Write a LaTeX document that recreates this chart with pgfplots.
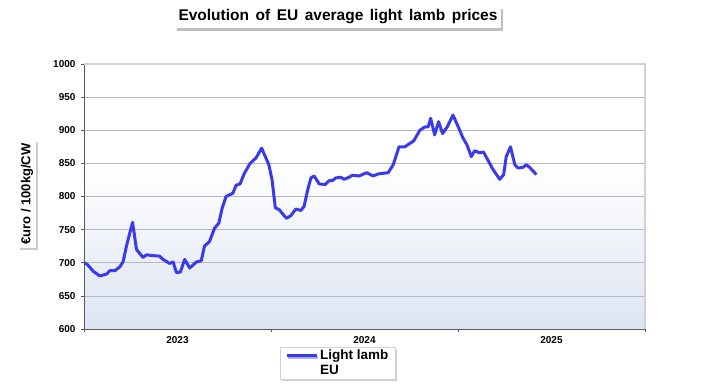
\documentclass[border=0pt]{standalone}
\usepackage{fontspec}
\setmainfont{Liberation Sans}
\usepackage{pgfplots}
\pgfplotsset{compat=1.18}
\usetikzlibrary{shadows}
\definecolor{lamb}{RGB}{58,58,235}
\definecolor{bgblue}{RGB}{221,228,243}
\pgfdeclareverticalshading{plotbg}{100bp}{color(0bp)=(bgblue); color(25bp)=(bgblue); color(56bp)=(white); color(100bp)=(white)}
\begin{document}
\begin{tikzpicture}
\path[use as bounding box] (0pt,0pt) rectangle (721pt,390pt);
\node[fill=white, inner xsep=4pt, inner ysep=4pt, drop shadow={shadow xshift=2pt, shadow yshift=-3pt, opacity=0.5}, font=\bfseries\fontsize{15.5}{17}\selectfont] at (338pt,373pt) {\spaceskip=0.42em Evolution of EU average light lamb prices};
\node[rotate=90, fill=white, inner sep=3pt, drop shadow={shadow xshift=2pt, shadow yshift=-2pt, opacity=0.4}, font=\bfseries\fontsize{13}{15}\selectfont] at (27pt,196pt) {€uro / 100kg/CW};
\begin{axis}[
  at={(84pt,61pt)}, anchor=south west,
  width=561pt, height=265pt, scale only axis,
  xmin=0, xmax=156, ymin=600, ymax=1000,
  xtick={0,52,104,156},
  xticklabels={2023,2024,2025},
  x tick label as interval,
  ytick={600,650,...,1000},
  axis x line=bottom, axis y line=left,
  axis line style={-, draw=gray!70!black, line width=0.8pt},
  tick align=outside, major tick length=3pt,
  tick style={draw=gray!70!black, line width=0.6pt},
  ymajorgrids, grid style={draw=gray!55, line width=0.7pt},
  /pgf/number format/assume math mode=true,
  /pgf/number format/1000 sep={},
  tick label style={font=\bfseries\fontsize{10}{12}\selectfont},
  yticklabel style={xshift=-2pt},
  xticklabel style={yshift=-1pt},
  axis background/.style={shading=plotbg},
  after end axis/.code={\draw[gray!35, line width=1.6pt] (rel axis cs:0,1) -- (rel axis cs:1,1) -- (rel axis cs:1,0);},
  legend style={at={(0.3494,-0.068)}, anchor=north west, draw=gray!35, fill=white,
    drop shadow={shadow xshift=1.5pt, shadow yshift=-1.5pt, opacity=0.4},
    font=\bfseries\fontsize{13.5}{15}\selectfont, inner xsep=5pt, inner ysep=1pt,
    row sep=0pt},
  legend cell align=left,
  legend image code/.code={\draw[#1] (0pt,0pt) -- (30pt,0pt);},
]
\addplot[lamb, line width=3pt, line join=round] coordinates {
(0,700) (1,697) (2.6,687) (4.4,680) (6.3,683) (7.2,688) (8.6,688) (10,694)
(10.9,702) (11.8,725) (13.5,761) (14.6,720) (16.4,708) (17.4,712) (18.7,711)
(21,710) (22,705) (22.9,702) (23.8,699) (24.8,701) (25.7,685) (26.8,686)
(28,705) (29.4,692) (31.2,701) (32.6,703) (33.5,725) (34.9,732) (36.3,752)
(37.5,760) (38.4,782) (39.5,800) (41.4,805) (42.3,817) (43.4,819) (44.6,835)
(46.2,850) (47.8,858) (49.4,873) (51.4,848) (52.3,825) (53.2,783) (54.3,780)
(56.3,767) (57.5,771) (58.9,781) (60.3,779) (61.2,785) (62.2,810) (63.1,828)
(64,831) (65.4,819) (67.1,818) (68.2,824) (69.1,824) (70,828) (71.4,829)
(72.3,826) (73.7,829) (74.6,832) (76.5,831) (78.6,836) (80.4,831) (81.8,834)
(84.6,836) (86,848) (87.6,875) (89.2,875) (90.6,880) (91.7,884) (93.4,900)
(94.8,905) (95.7,905) (96.4,918) (97.5,893) (98.6,913) (99.7,895) (101,905)
(102.6,923) (104,906) (105.4,888) (106.5,878) (107.7,860) (108.6,869) (110,866)
(111.1,867) (112.3,855) (113.7,841) (115.6,826) (116.7,833) (117.4,860)
(118.6,875) (119.8,848) (120.7,843) (122.1,844) (123,848) (123.9,844) (125.8,833)
};
\addlegendentry{Light lamb}
\addlegendimage{empty legend}
\addlegendentry{EU}
\end{axis}
\end{tikzpicture}
\end{document}
